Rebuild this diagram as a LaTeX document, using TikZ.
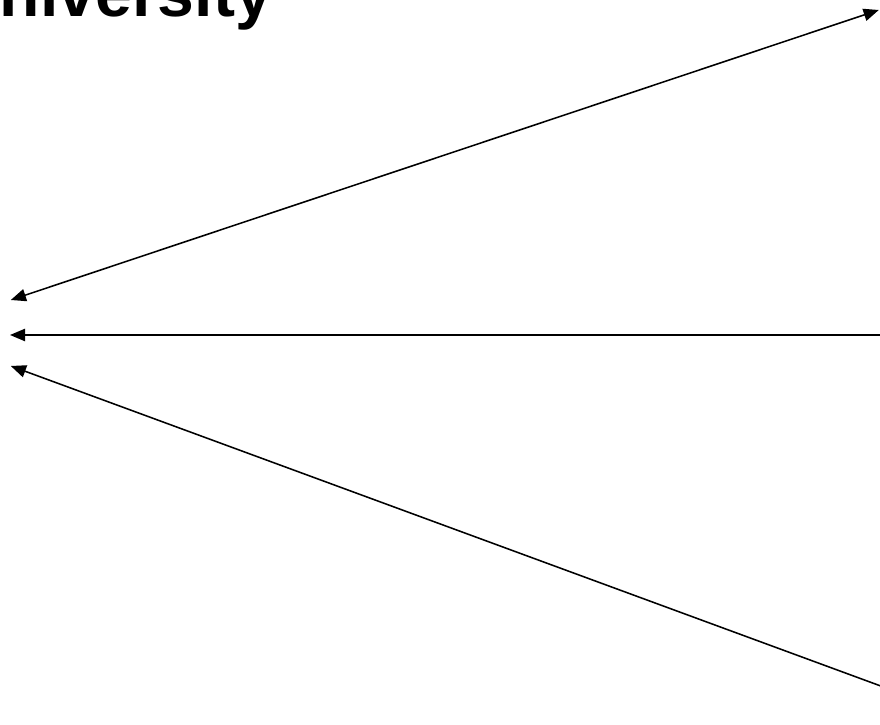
\documentclass[tikz,border=0pt]{standalone}
\usepackage{fontspec}
\setmainfont{Liberation Sans}
\usetikzlibrary{arrows.meta, positioning}
\definecolor{inkblack}{RGB}{0, 0, 0}

\begin{document}
\begin{tikzpicture}[
        title/.style={anchor=base west, inner sep=0pt, font=\fontsize{47}{56}\selectfont\bfseries},
        arr/.style={-{Triangle[length=0.38cm, width=0.31cm]}, draw=inkblack, line width=1.1pt},
        dblarr/.style={{Triangle[length=0.38cm, width=0.31cm]}-{Triangle[length=0.38cm, width=0.31cm]}, draw=inkblack, line width=1.1pt}
    ]
        \useasboundingbox (0,0) rectangle (22,18.1);
        \clip (0,0) rectangle (22,18.1);

        \node[title] (uni) at (-1.2,17.68) {University};

        % ends of the three arrows
        \coordinate (topright) at (21.97,17.85);
        \coordinate (topleft) at (0.27,10.6);
        \coordinate (midright) at (22.1,9.725);
        \coordinate (midleft) at (0.25,9.725);
        \coordinate (botright) at (22.1,0.92);
        \coordinate (botleft) at (0.27,8.95);

        \draw[dblarr] (topleft) -- (topright);
        \draw[arr] (midright) -- (midleft);
        \draw[arr] (botright) -- (botleft);
    \end{tikzpicture}
\end{document}
